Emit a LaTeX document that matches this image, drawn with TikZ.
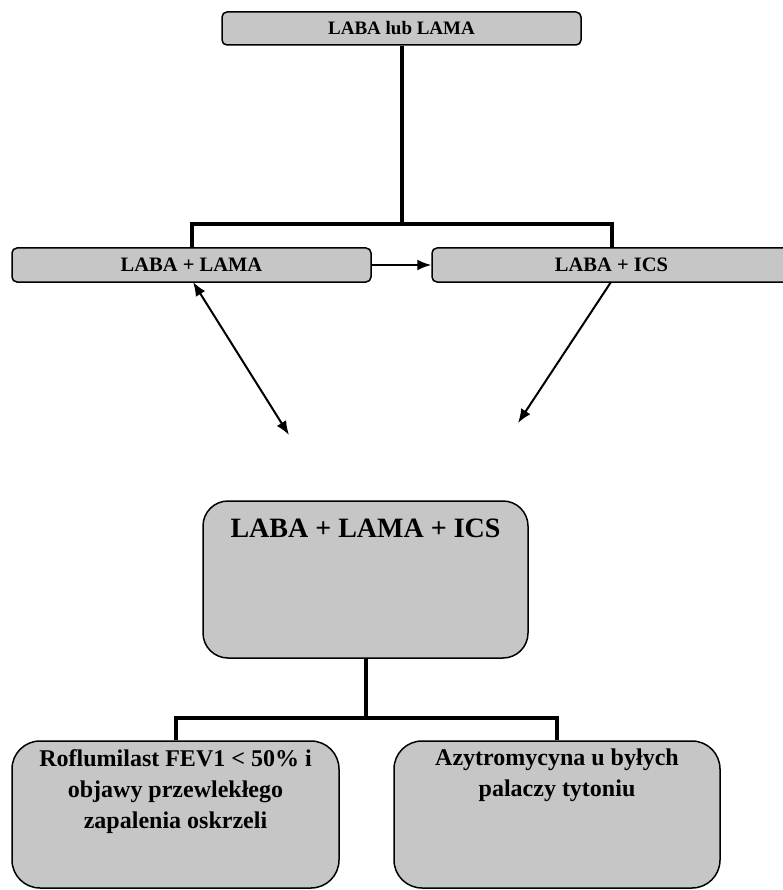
\documentclass[tikz,border=0pt]{standalone}
\usepackage{fontspec}
\setmainfont{Liberation Serif}
\usetikzlibrary{arrows.meta}
\definecolor{boxgray}{HTML}{C6C6C6}
\begin{document}
\begin{tikzpicture}[x=1pt,y=-1pt,
  box/.style={draw=black, line width=1.5pt, fill=boxgray, inner sep=0pt},
  tree/.style={line width=4pt, line join=miter},
  arr/.style={line width=2pt, -{Latex[length=14pt,width=11pt]}},
  darr/.style={line width=2pt, {Latex[length=14pt,width=11pt]}-{Latex[length=14pt,width=11pt]}},
  small/.style={font=\bfseries\fontsize{19}{22}\selectfont},
  smallb/.style={font=\bfseries\fontsize{20.5}{22}\selectfont},
  big/.style={font=\bfseries\fontsize{28}{32}\selectfont},
  mid/.style={font=\bfseries\fontsize{24}{31}\selectfont, align=center, inner sep=0pt}]
\useasboundingbox (0,0) rectangle (782,890);
% top level
\node[box, rounded corners=5pt, minimum width=359pt, minimum height=33pt, small] (top) at (401.5,28.5) {LABA lub LAMA};
\node[box, rounded corners=5pt, minimum width=359pt, minimum height=34pt, smallb] (lama) at (191.5,265) {LABA + LAMA};
\node[box, rounded corners=5pt, minimum width=359pt, minimum height=34pt, smallb] (ics) at (611.5,265) {LABA + ICS};
\coordinate (j1) at (401.5,224);
\draw[tree] (top.south) -- (j1);
\draw[tree] (lama.north) |- (j1) -| (ics.north);
% arrows
\draw[arr] (lama.east) -- (ics.west);
\coordinate (a1s) at (193,282);
\coordinate (a1e) at (289,435);
\draw[darr] (a1s) -- (a1e);
\coordinate (a2s) at (611,282);
\coordinate (a2e) at (518,423);
\draw[arr] (a2s) -- (a2e);
% middle box
\node[box, rounded corners=25pt, minimum width=325pt, minimum height=157pt] (triple) at (365.5,579.5) {};
\node[big, anchor=base] (tripletxt) at (365.5,537) {LABA + LAMA + ICS};
% bottom
\node[box, rounded corners=28pt, minimum width=327pt, minimum height=147pt] (rof) at (175.5,814.5) {};
\node[box, rounded corners=28pt, minimum width=326pt, minimum height=147pt] (azy) at (557,814.5) {};
\coordinate (j2) at (365.5,718);
\draw[tree] (triple.south) -- (j2);
\draw[tree] (rof.north) |- (j2) -| (azy.north);
\node[mid, anchor=north] (roftxt) at (175.5,749) {Roflumilast FEV1 < 50\% i\\objawy przewlekłego\\zapalenia oskrzeli};
\node[mid, anchor=north] (azytxt) at (557,749) {Azytromycyna u byłych\\palaczy tytoniu};
\end{tikzpicture}
\end{document}
